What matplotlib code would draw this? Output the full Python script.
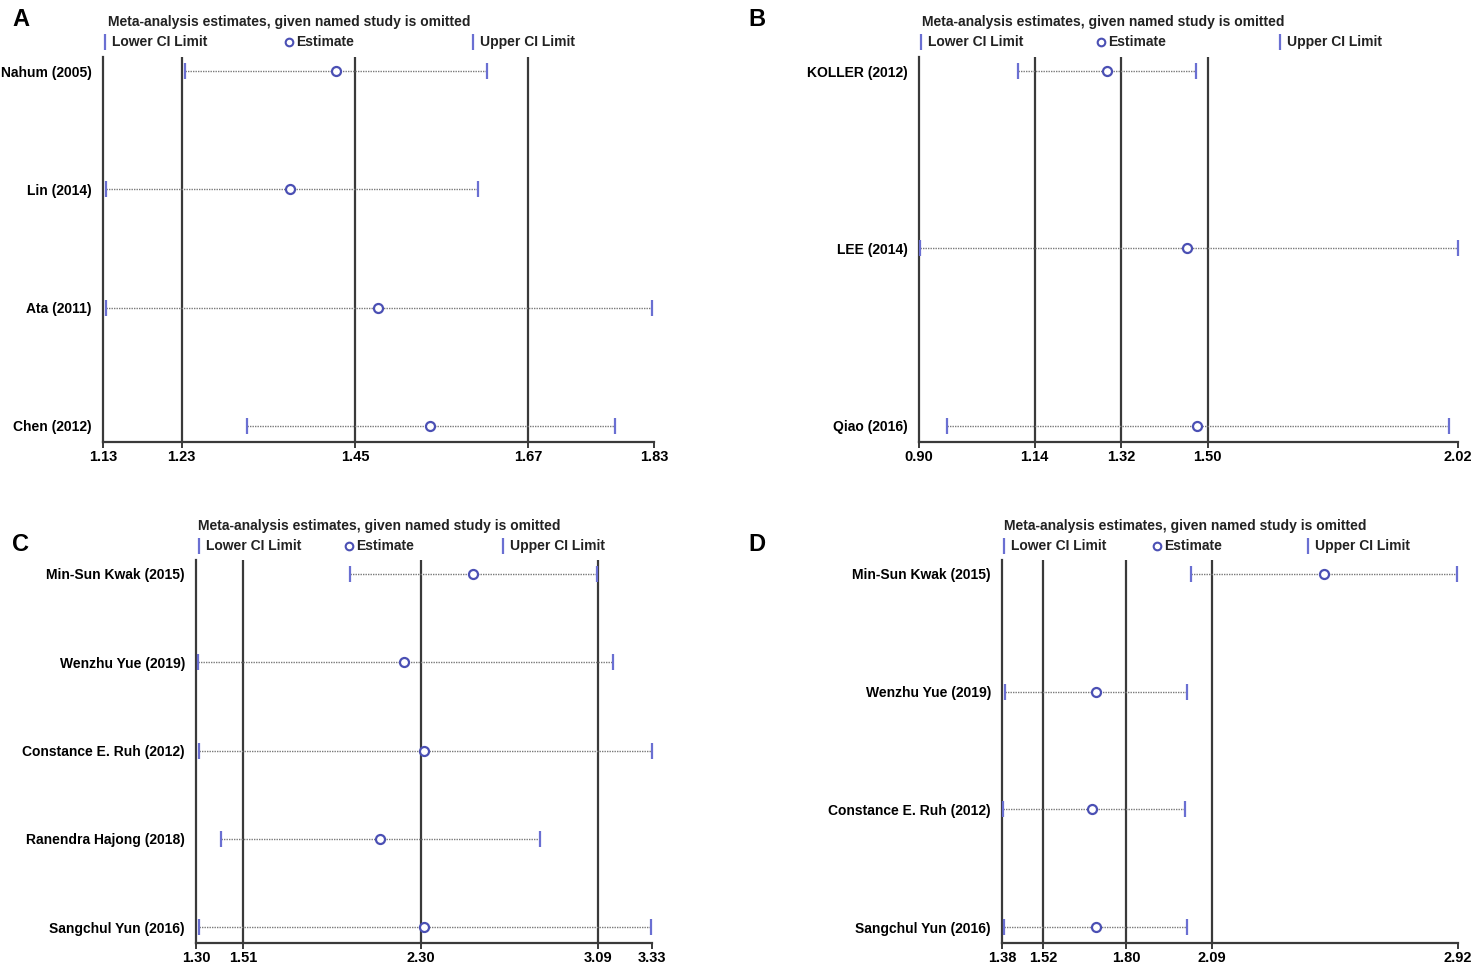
import numpy as np
import matplotlib.pyplot as plt

plt.rcParams['font.family'] = ['Liberation Sans', 'DejaVu Sans']

# panel A
studies_a = ['Nahum (2005)', 'Lin (2014)', 'Ata (2011)', 'Chen (2012)']
lower_a = [1.234, 1.134, 1.134, 1.313]
est_a = [1.426, 1.368, 1.479, 1.545]
upper_a = [1.618, 1.606, 1.828, 1.781]
ticks_a = [1.13, 1.23, 1.45, 1.67, 1.83]

# panel B
studies_b = ['KOLLER (2012)', 'LEE (2014)', 'Qiao (2016)']
lower_b = [1.106, 0.902, 0.958]
est_b = [1.291, 1.457, 1.478]
upper_b = [1.476, 2.020, 2.002]
ticks_b = [0.90, 1.14, 1.32, 1.50, 2.02]

# panel C
studies_c = ['Min-Sun Kwak (2015)', 'Wenzhu Yue (2019)', 'Constance E. Ruh (2012)',
             'Ranendra Hajong (2018)', 'Sangchul Yun (2016)']
lower_c = [1.986, 1.309, 1.313, 1.411, 1.313]
est_c = [2.533, 2.226, 2.315, 2.120, 2.315]
upper_c = [3.085, 3.157, 3.330, 2.833, 3.326]
ticks_c = [1.30, 1.51, 2.30, 3.09, 3.33]

# panel D
studies_d = ['Min-Sun Kwak (2015)', 'Wenzhu Yue (2019)', 'Constance E. Ruh (2012)',
             'Sangchul Yun (2016)']
lower_d = [2.019, 1.390, 1.383, 1.387]
est_d = [2.468, 1.698, 1.684, 1.698]
upper_d = [2.917, 2.005, 1.998, 2.005]
ticks_d = [1.38, 1.52, 1.80, 2.09, 2.92]

W, H = 1476, 965
BAR_COL = '#6a6fd2'
CIRC_COL = '#4b50b4'
LINE_COL = '#3a3a3a'

fig = plt.figure(figsize=(W / 100, H / 100), dpi=100)


def px(x, y):
    return x / W, 1 - y / H


def panel(letter, box, studies, lo, est, up, ticks, title_xy, leg_x):
    x0, y0, x1, y1 = box
    ax = fig.add_axes([x0 / W, 1 - y1 / H, (x1 - x0) / W, (y1 - y0) / H])
    n = len(studies)
    ypos = np.arange(n)
    # rows sit 14 px below the top and ~16 px above the axis line
    span = (y1 - y0) - 14 - 16
    per_px = (n - 1) / span
    ax.set_ylim(n - 1 + 16 * per_px, -14 * per_px)
    ax.set_xlim(ticks[0], ticks[-1])

    for t in ticks[1:-1]:
        ax.axvline(t, color=LINE_COL, lw=1.6, zorder=1)

    for i in range(n):
        ax.plot([lo[i], up[i]], [ypos[i], ypos[i]], color='#7a7a7a', lw=1.0,
                ls=(0, (1, 0.8)), zorder=2)
    ax.plot(lo, ypos, ls='none', marker='|', ms=12, mew=1.6, color=BAR_COL, zorder=3,
            clip_on=False)
    ax.plot(up, ypos, ls='none', marker='|', ms=12, mew=1.6, color=BAR_COL, zorder=3,
            clip_on=False)
    ax.plot(est, ypos, ls='none', marker='o', ms=6.5, mew=1.6, mfc='white',
            mec=CIRC_COL, zorder=4, clip_on=False)

    ax.set_yticks(ypos)
    ax.set_yticklabels(studies, fontsize=10, fontweight='bold')
    ax.tick_params(axis='y', length=0, pad=8)
    ax.set_xticks(ticks)
    ax.set_xticklabels(['%.2f' % t for t in ticks], fontsize=10.5, fontweight='bold')
    ax.tick_params(axis='x', length=4, width=1.4, color=LINE_COL, pad=2)
    for s in ['top', 'right']:
        ax.spines[s].set_visible(False)
    for s in ['left', 'bottom']:
        ax.spines[s].set_color(LINE_COL)
        ax.spines[s].set_linewidth(1.6)

    # panel letter and header
    lx = 12 if letter in 'AC' else 748
    ly = 8 if letter in 'AB' else 533
    fig.text(*px(lx, ly), letter, fontsize=17, fontweight='bold', va='top', ha='left')
    fig.text(*px(*title_xy), 'Meta-analysis estimates, given named study is omitted',
             fontsize=10, fontweight='bold', va='center', ha='left', color='#222222')
    leg_y = title_xy[1] + 20
    labels = ['Lower CI Limit', 'Estimate', 'Upper CI Limit']
    marks = ['|', 'o', '|']
    for lxp, lab, mk in zip(leg_x, labels, marks):
        mx, my = px(lxp, leg_y)
        if mk == 'o':
            fig.lines.append(plt.Line2D([mx], [my], marker='o', ms=5.5, mew=1.5,
                                        mfc='white', mec=CIRC_COL, ls='none',
                                        transform=fig.transFigure))
        else:
            fig.lines.append(plt.Line2D([mx], [my], marker='|', ms=11, mew=1.6,
                                        color=BAR_COL, ls='none',
                                        transform=fig.transFigure))
        fig.text(*px(lxp + 7, leg_y), lab, fontsize=10, fontweight='bold',
                 va='center', ha='left', color='#222222')
    return ax


panel('A', (103, 57, 654, 442), studies_a, lower_a, est_a, upper_a, ticks_a,
      (108, 22), [105, 289, 473])
panel('B', (919, 57, 1458, 442), studies_b, lower_b, est_b, upper_b, ticks_b,
      (922, 22), [921, 1101, 1280])
panel('C', (196, 560, 652, 943), studies_c, lower_c, est_c, upper_c, ticks_c,
      (198, 526), [199, 349, 503])
panel('D', (1002, 560, 1458, 943), studies_d, lower_d, est_d, upper_d, ticks_d,
      (1004, 526), [1004, 1157, 1308])

fig.savefig('out.png', dpi=100)
